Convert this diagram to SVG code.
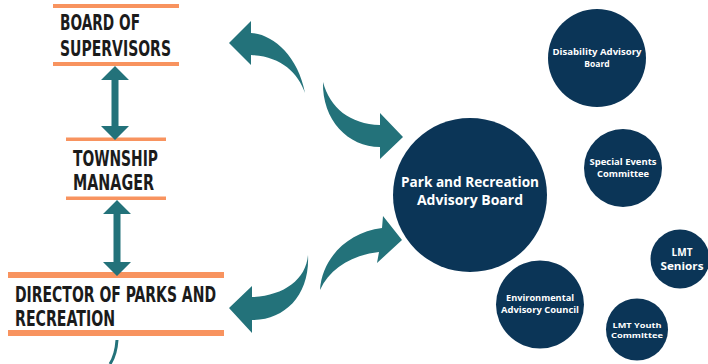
<svg xmlns="http://www.w3.org/2000/svg" width="708" height="364" viewBox="0 0 708 364">
<style>
.bar{fill:#f8935f}
.ttl{font-family:"Liberation Sans Narrow","DejaVu Sans Condensed","Liberation Sans",sans-serif;font-weight:bold;font-size:21px;fill:#1b1b1b}
.arr{fill:#23727a}
.circ{fill:#0b3557}
.ct{font-family:"Open Sans","Noto Sans","Liberation Sans",sans-serif;font-weight:bold;fill:#ffffff;text-anchor:middle}
</style>
<rect width="708" height="364" fill="#ffffff"/>
<g id="board">
<rect class="bar" x="53" y="4" width="126" height="4"/>
<rect class="bar" x="53" y="62" width="126" height="4"/>
<text class="ttl" x="60" y="30" font-size="22" textLength="80" lengthAdjust="spacingAndGlyphs">BOARD OF</text>
<text class="ttl" x="60" y="56" font-size="22" textLength="111" lengthAdjust="spacingAndGlyphs">SUPERVISORS</text>
</g>
<g id="township">
<rect class="bar" x="66" y="137.5" width="100" height="3.5"/>
<rect class="bar" x="66" y="196.5" width="100" height="3.5"/>
<text class="ttl" x="73" y="166" textLength="85" lengthAdjust="spacingAndGlyphs">TOWNSHIP</text>
<text class="ttl" x="73" y="190" textLength="81" lengthAdjust="spacingAndGlyphs">MANAGER</text>
</g>
<g id="director">
<rect class="bar" x="8" y="272" width="216" height="6"/>
<rect class="bar" x="8" y="330" width="216" height="6"/>
<text class="ttl" x="15" y="302" textLength="201" lengthAdjust="spacingAndGlyphs">DIRECTOR OF PARKS AND</text>
<text class="ttl" x="15" y="326" textLength="100" lengthAdjust="spacingAndGlyphs">RECREATION</text>
</g>
<g id="connectors">
<path class="arr" d="M115,66 L129,80 L118.5,80 L118.5,126 L129,126 L115,140 L101,126 L111.5,126 L111.5,80 L101,80 Z"/>
<path class="arr" d="M117,200 L131,214 L120.5,214 L120.5,262 L131,262 L117,276 L103,262 L113.5,262 L113.5,214 L103,214 Z"/>
<path class="arr" d="M229,43 L251,21 L251,33 C272,34 298,55 305,93 C298,72 280,56 251,55 L251,65 Z"/>
<path class="arr" d="M323,82 C330,108 350,124 380,125 L380,113 L403,137 L380,159 L380,147 C348,147 322,120 323,82 Z"/>
<path class="arr" d="M320,290 C322,258 348,232 382,228 L383,216 L402,240 L377,263 L379,252 C352,255 330,268 320,290 Z"/>
<path class="arr" d="M308,255 C306,280 283,296 252,297 L252,286 L229,308 L252,333 L252,320 C285,320 310,295 308,255 Z"/>
<path d="M117,340 Q116,355 110,364" fill="none" stroke="#23727a" stroke-width="3"/>
</g>
<g id="park-board">
<circle class="circ" cx="470" cy="195" r="77"/>
<text class="ct" x="470" y="187" font-size="14" textLength="138" lengthAdjust="spacingAndGlyphs">Park and Recreation</text>
<text class="ct" x="470" y="205" font-size="14">Advisory Board</text>
</g>
<g id="disability">
<circle class="circ" cx="597" cy="58" r="49"/>
<text class="ct" x="597" y="55" font-size="8.5" textLength="89" lengthAdjust="spacingAndGlyphs">Disability Advisory</text>
<text class="ct" x="597" y="67" font-size="8.5">Board</text>
</g>
<g id="special-events">
<circle class="circ" cx="623" cy="168" r="39"/>
<text class="ct" x="623" y="165" font-size="8.5" textLength="67" lengthAdjust="spacingAndGlyphs">Special Events</text>
<text class="ct" x="623" y="177" font-size="8.5" textLength="52" lengthAdjust="spacingAndGlyphs">Committee</text>
</g>
<g id="seniors">
<circle class="circ" cx="680" cy="259" r="29.5"/>
<text class="ct" x="682" y="256" font-size="10">LMT</text>
<text class="ct" x="682" y="269.5" font-size="10" textLength="43" lengthAdjust="spacingAndGlyphs">Seniors</text>
</g>
<g id="environmental">
<circle class="circ" cx="540" cy="304.5" r="44"/>
<text class="ct" x="540" y="301" font-size="8.5" textLength="68" lengthAdjust="spacingAndGlyphs">Environmental</text>
<text class="ct" x="540" y="313" font-size="8.5" textLength="78" lengthAdjust="spacingAndGlyphs">Advisory Council</text>
</g>
<g id="youth">
<circle class="circ" cx="637" cy="329.5" r="31"/>
<text class="ct" x="637" y="327.5" font-size="7.5" textLength="49" lengthAdjust="spacingAndGlyphs">LMT Youth</text>
<text class="ct" x="637" y="338" font-size="7.5" textLength="52" lengthAdjust="spacingAndGlyphs">Committee</text>
</g>
</svg>
